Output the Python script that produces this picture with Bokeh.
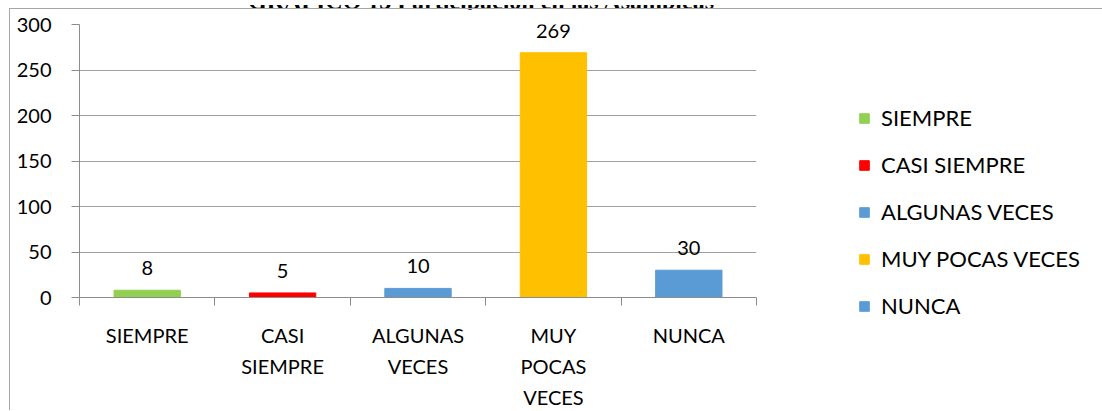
from bokeh.plotting import figure
from bokeh.models import (Range1d, LinearAxis, FixedTicker, Legend, LegendItem,
                          ColumnDataSource, Div)
from bokeh.layouts import column
from bokeh.embed import file_html
from bokeh.resources import INLINE

# ---- data ----
title_text = "GRÁFICO 13 Participación en las Asambleas"
categories = ["SIEMPRE", "CASI SIEMPRE", "ALGUNAS VECES", "MUY POCAS VECES", "NUNCA"]
tick_labels = ["SIEMPRE", "CASI\nSIEMPRE", "ALGUNAS\nVECES", "MUY\nPOCAS\nVECES", "NUNCA"]
values = [8, 5, 10, 269, 30]
colors = ["#92D050", "#FF0000", "#5B9BD5", "#FFC000", "#5B9BD5"]
y_ticks = [0, 50, 100, 150, 200, 250, 300]

FONT = "Lato"
GRID = "#a0a0a0"
AXIS = "#8c8c8c"
BORDER = "#a6a6a6"

n = len(categories)
centers = [i + 0.5 for i in range(n)]
edges = list(range(n + 1))

src = ColumnDataSource(dict(x=centers, cat=categories, val=values, color=colors,
                            lab=[str(v) for v in values]))

p = figure(x_range=Range1d(0, n), y_range=Range1d(0, 300),
           frame_width=676, frame_height=272, output_backend="svg", toolbar_location=None,
           x_axis_location=None,
           min_border_left=69, min_border_right=347, min_border_top=15, min_border_bottom=114)
p.margin = (-11, 0, 0, 9)
p.styles = {"border-top": "1px solid " + BORDER, "border-left": "1px solid " + BORDER}
p.outline_line_color = None
p.background_fill_color = "white"
p.border_fill_color = "white"

bars = p.vbar(x="x", top="val", width=0.49, color="color", source=src)
p.text(x="x", y="val", text="lab", source=src, y_offset=-15,
       text_align="center", text_baseline="bottom",
       text_font={"value": FONT}, text_font_size="20px", text_color="#000000")

# y axis
yax = p.yaxis[0]
yax.ticker = FixedTicker(ticks=y_ticks)
yax.major_tick_out = 8
yax.major_tick_in = 0
yax.minor_tick_line_color = None
yax.axis_line_color = AXIS
yax.major_tick_line_color = AXIS
yax.major_label_standoff = 20
yax.major_label_text_font = FONT
yax.major_label_text_font_size = "20px"
yax.major_label_text_color = "#000000"

p.ygrid.ticker = FixedTicker(ticks=y_ticks)
p.ygrid.grid_line_color = GRID
p.xgrid.grid_line_color = None

# x axis: tick marks at category boundaries
edge_axis = LinearAxis(ticker=FixedTicker(ticks=edges),
                       major_label_text_font_size="0px", major_label_standoff=0,
                       major_tick_out=8, major_tick_in=0,
                       minor_tick_line_color=None,
                       axis_line_color=AXIS, major_tick_line_color=AXIS)
p.add_layout(edge_axis, "below")

# x axis: category names at bar centres
label_axis = LinearAxis(ticker=FixedTicker(ticks=centers),
                        major_tick_line_color=None, axis_line_color=None,
                        minor_tick_line_color=None,
                        major_label_overrides=dict(zip(centers, tick_labels)),
                        major_label_standoff=11,
                        major_label_text_font=FONT,
                        major_label_text_font_size="20px",
                        major_label_text_color="#000000",
                        major_label_text_line_height=1.3)
p.add_layout(label_axis, "below")

# legend (one entry per bar)
items = [LegendItem(label=c, renderers=[bars], index=i) for i, c in enumerate(categories)]
lg = Legend(items=items, location=(102, -22), padding=0, margin=0,
            border_line_color=None, background_fill_alpha=0,
            glyph_width=12, glyph_height=12, label_standoff=11, spacing=20,
            label_text_font=FONT, label_text_font_size="22px", label_text_color="#000000")
p.add_layout(lg, "right")

# title above the chart box (its top is cut off by the page edge)
title_div = Div(
    text=('<div style="margin-top:-13px; width:952px; text-align:center; '
          'white-space:nowrap; font-family:\'Liberation Serif\'; font-weight:bold; '
          'font-size:24px; line-height:23px; color:#000; position:relative; top:-8px;">'
          + title_text + '</div>'),
    width=1102, height=9, styles={"overflow": "hidden"})

layout = column(title_div, p, spacing=0)
open("out.html", "w").write(file_html(layout, INLINE))
